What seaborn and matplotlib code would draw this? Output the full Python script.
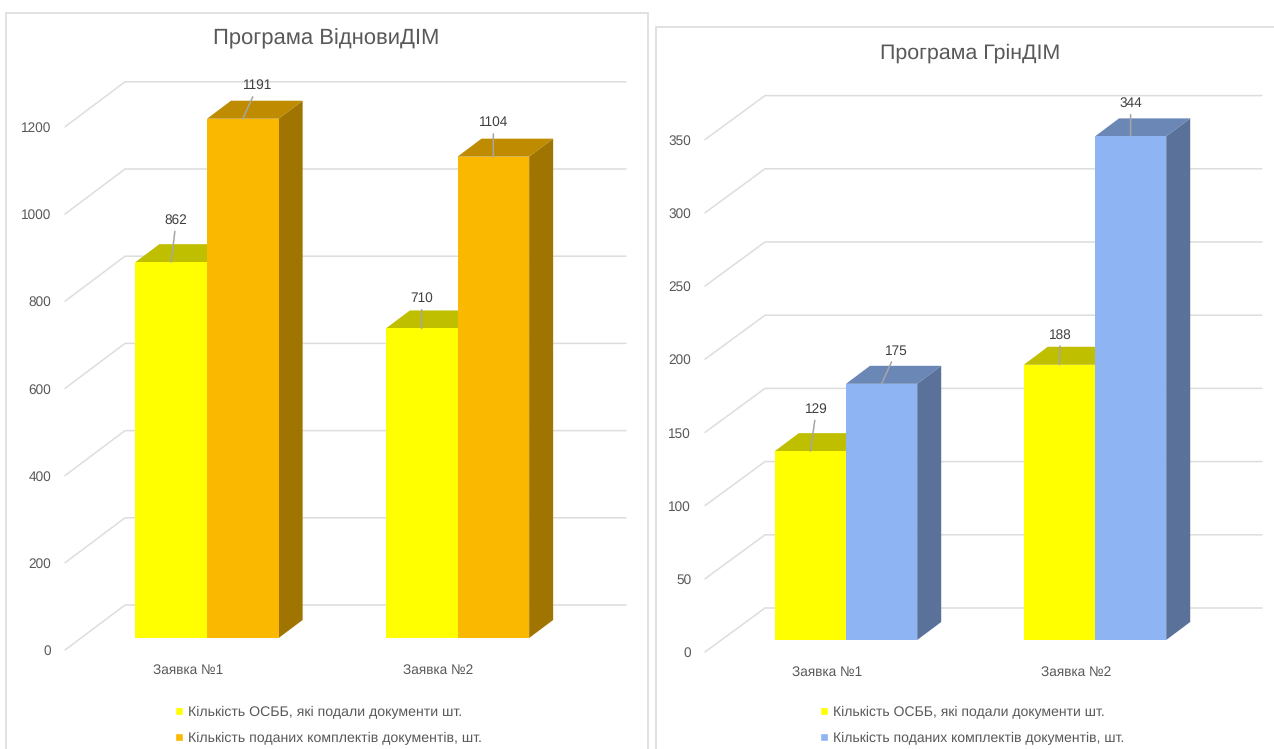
"""Two pseudo-3D bar charts for the ВідновиДІМ and ГрінДІМ programmes."""

import matplotlib
matplotlib.use('Agg')
import matplotlib.pyplot as plt
from matplotlib.patches import Patch, Polygon, Rectangle
import pandas as pd
import seaborn as sns

W, H = 1274, 749

REQUESTS = ['Заявка №1', 'Заявка №2']
SERIES_OSBB = 'Кількість ОСББ, які подали документи шт.'
SERIES_DOCS = 'Кількість поданих комплектів документів, шт.'

VIDNOVY_OSBB = [862, 710]
VIDNOVY_DOCS = [1191, 1104]
GRIN_OSBB = [129, 188]
GRIN_DOCS = [175, 344]

VIDNOVY_TICKS = [0, 200, 400, 600, 800, 1000, 1200]
GRIN_TICKS = [0, 50, 100, 150, 200, 250, 300, 350]

YELLOW = ('#FFFF00', '#BFBF00')
ORANGE = ('#FBB800', '#BF8B00', '#A07400')
BLUE = ('#8EB4F3', '#6A87B6', '#5A7299')

GRID = '#DDDDDD'
TEXT = '#595959'
LABEL = '#404040'
DEPTH = (24, 18)
WALL_DX = 60


def to_fig(x, y):
    return x / W, 1 - y / H


def draw_panel(fig, title, osbb, docs, ticks, second, layout, offsets):
    left, right, front, top = layout['left'], layout['right'], layout['front'], layout['top']
    base, first_x, step = layout['base'], layout['first_x'], layout['step']
    scale = layout['scale']

    x0, y0 = to_fig(left, front)
    x1, y1 = to_fig(right, top)
    ax = fig.add_axes([x0, y0, x1 - x0, y1 - y0])
    ax.patch.set_alpha(0)

    df = pd.DataFrame({
        'request': REQUESTS * 2,
        'series': [SERIES_OSBB] * 2 + [SERIES_DOCS] * 2,
        'count': osbb + docs,
    })
    sns.barplot(
        data=df, x='request', y='count', hue='series',
        palette=[YELLOW[0], second[0]], saturation=1,
        width=0.572, gap=0, linewidth=0, legend=False, ax=ax, zorder=3,
    )

    ax.set_xlim((left - first_x) / step, (right - first_x) / step)
    ax.set_ylim((base - front) / scale, (base - top) / scale)
    ax.set_xlabel('')
    ax.set_ylabel('')

    # the depth of the "3D" look, converted into data units
    dx = DEPTH[0] / step
    dy = DEPTH[1] / scale
    wall_dx = WALL_DX / step
    front_off = (base - front) / scale
    back_off = (base - (front - layout['wall_dy'])) / scale

    xa, xb = ax.get_xlim()
    for v in ticks:
        ax.plot(
            [xa, xa + wall_dx, xb],
            [v + front_off, v + back_off, v + back_off],
            color=GRID, lw=1.1, zorder=1, clip_on=False,
        )

    for container, colors in zip(ax.containers, (YELLOW, second)):
        for bar in container:
            a = bar.get_x()
            b = a + bar.get_width()
            h = bar.get_height()
            ax.add_patch(Polygon(
                [(a, h), (b, h), (b + dx, h + dy), (a + dx, h + dy)],
                facecolor=colors[1], edgecolor='none', zorder=2,
            ))
            if len(colors) > 2:
                ax.add_patch(Polygon(
                    [(b, 0), (b + dx, dy), (b + dx, h + dy), (b, h)],
                    facecolor=colors[2], edgecolor='none', zorder=2,
                ))

    for container, values, offs in zip(ax.containers, (osbb, docs), offsets):
        for bar, value, off in zip(container, values, offs):
            ax.annotate(
                str(value),
                xy=(bar.get_x() + bar.get_width() / 2, bar.get_height()),
                xytext=off, textcoords='offset pixels',
                ha='center', va='center', fontsize=9.8, color=LABEL, zorder=6,
                arrowprops=dict(arrowstyle='-', color='#A6A6A6', lw=1.1,
                                shrinkA=1, shrinkB=0, zorder=5),
                annotation_clip=False,
            )

    ax.set_yticks([v + front_off for v in ticks], [str(v) for v in ticks])
    ax.set_xticks([i - 19 / step for i in range(len(REQUESTS))], REQUESTS)
    ax.tick_params(axis='y', length=0, pad=10, labelsize=9.8, labelcolor=TEXT)
    ax.tick_params(axis='x', length=0, pad=10, labelsize=9.8, labelcolor=TEXT)
    sns.despine(ax=ax, left=True, bottom=True)

    tx, ty = to_fig(*layout['title'])
    fig.text(tx, ty, title, ha='center', va='center', fontsize=layout['title_size'], color=TEXT)

    handles = [Patch(facecolor=YELLOW[0]), Patch(facecolor=second[0])]
    ax.legend(
        handles, [SERIES_OSBB, SERIES_DOCS],
        loc='upper left', bbox_to_anchor=to_fig(*layout['legend']),
        bbox_transform=fig.transFigure, frameon=False, fontsize=layout['legend_size'],
        labelcolor=TEXT, handlelength=0.55, handleheight=0.55,
        handletextpad=0.35, labelspacing=0.9, borderpad=0, borderaxespad=0,
    )


def main():
    sns.set_theme(style='white')
    plt.rcParams['font.family'] = ['Liberation Sans', 'DejaVu Sans']
    plt.rcParams['text.hinting'] = 'none'

    fig = plt.figure(figsize=(W / 100, H / 100), dpi=100, facecolor='white')

    # chart frames, the lower and right edges run off the image
    for xa, xb, ya, yb in ((6.5, 647.5, 12.5, 760), (656, 1290, 27, 760)):
        xf, yf = to_fig(xa, yb)
        fig.add_artist(Rectangle(
            (xf, yf), (xb - xa) / W, (yb - ya) / H, transform=fig.transFigure,
            facecolor='none', edgecolor='#D9D9D9', lw=1.1,
        ))

    draw_panel(
        fig, 'Програма ВідновиДІМ', VIDNOVY_OSBB, VIDNOVY_DOCS, VIDNOVY_TICKS, ORANGE,
        dict(left=65, right=626, front=650, top=70, base=638, first_x=207, step=250.5,
             scale=0.436, wall_dy=45, title=(326, 39), title_size=15.8,
             legend=(175, 706), legend_size=10.2),
        (((5, 42), (0, 30)), ((15, 33), (0, 34))),
    )
    draw_panel(
        fig, 'Програма ГрінДІМ', GRIN_OSBB, GRIN_DOCS, GRIN_TICKS, BLUE,
        dict(left=705, right=1262, front=652, top=70, base=640, first_x=846, step=249,
             scale=1.464, wall_dy=44, title=(970, 53), title_size=15.4,
             legend=(820, 706), legend_size=10.05),
        (((6, 42), (1, 30)), ((15, 33), (0, 33))),
    )

    fig.savefig('out.png', dpi=100, facecolor='white')


if __name__ == '__main__':
    main()
